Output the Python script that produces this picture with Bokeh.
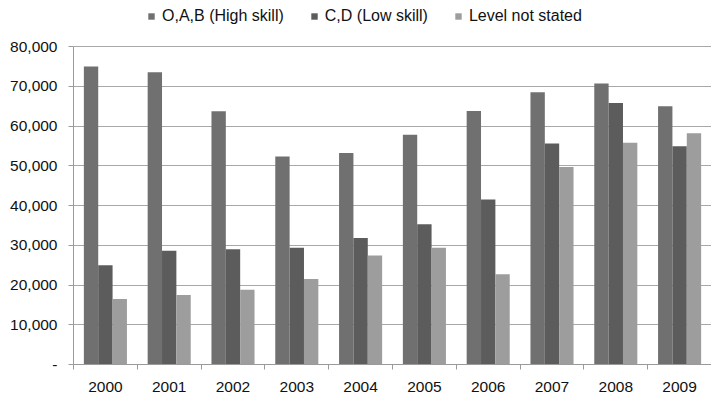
from bokeh.plotting import figure
from bokeh.models import (Range1d, FixedTicker, NumeralTickFormatter, Legend, LegendItem)
from bokeh.embed import file_html
from bokeh.resources import INLINE

years = ["2000", "2001", "2002", "2003", "2004", "2005", "2006", "2007", "2008", "2009"]
high_skill = [75000, 73500, 63700, 52300, 53200, 57800, 63800, 68500, 70700, 65000]
low_skill = [25000, 28600, 29000, 29400, 31800, 35300, 41500, 55600, 65800, 54900]
not_stated = [16500, 17500, 18800, 21500, 27400, 29400, 22700, 49700, 55800, 58200]
series_names = ["O,A,B (High skill)", "C,D (Low skill)", "Level not stated"]
colors = ["#707070", "#5c5c5c", "#9d9d9d"]
y_ticks = [0, 10000, 20000, 30000, 40000, 50000, 60000, 70000, 80000]

FONT = "Liberation Sans"

# layout: frame occupies the full height above the x axis; the value axis
# stops at the top tick and the legend sits in the free strip above it
FIG_W, FIG_H = 711, 395
BORDER_LEFT, BORDER_BOTTOM = 73, 31
FRAME_H = FIG_H - BORDER_BOTTOM
TOP_GAP = 46  # px between frame top and the top tick
y_max = y_ticks[-1] * FRAME_H / (FRAME_H - TOP_GAP)

p = figure(width=FIG_W, height=FIG_H, output_backend="svg", toolbar_location=None,
           x_range=Range1d(0, len(years)), y_range=Range1d(0, y_max),
           min_border_left=BORDER_LEFT, min_border_right=0, min_border_top=0,
           min_border_bottom=BORDER_BOTTOM)
p.outline_line_color = None
p.background_fill_color = "white"
p.border_fill_color = "white"

bw = 0.225
offsets = [-bw, 0.0, bw]
renderers = []
for vals, off, col in zip([high_skill, low_skill, not_stated], offsets, colors):
    xs = [i + 0.5 + off for i in range(len(years))]
    r = p.vbar(x=xs, top=vals, width=bw, bottom=0, fill_color=col, line_color=None)
    renderers.append(r)

# y axis
p.yaxis.bounds = (y_ticks[0], y_ticks[-1])
p.yaxis.ticker = FixedTicker(ticks=y_ticks)
p.yaxis.formatter = NumeralTickFormatter(format="0,0")
p.yaxis.major_label_overrides = {0: "-"}
p.yaxis.major_label_text_font = FONT
p.yaxis.major_label_text_font_size = "15.5px"
p.yaxis.major_label_text_color = "#111111"
p.yaxis.axis_line_color = "#9a9a9a"
p.yaxis.major_tick_line_color = "#9a9a9a"
p.yaxis.major_tick_out = 5
p.yaxis.major_tick_in = 0
p.yaxis.minor_tick_line_color = None
p.yaxis.major_label_standoff = 11

# x axis
centers = [i + 0.5 for i in range(len(years))]
bounds = list(range(len(years) + 1))
p.xaxis.ticker = FixedTicker(ticks=centers, minor_ticks=bounds)
p.xaxis.major_label_overrides = {c: y for c, y in zip(centers, years)}
p.xaxis.major_label_text_font = FONT
p.xaxis.major_label_text_font_size = "15.5px"
p.xaxis.major_label_text_color = "#111111"
p.xaxis.axis_line_color = "#9a9a9a"
p.xaxis.major_tick_line_color = None
p.xaxis.major_tick_out = 0
p.xaxis.major_tick_in = 0
p.xaxis.minor_tick_line_color = "#9a9a9a"
p.xaxis.minor_tick_out = 5
p.xaxis.minor_tick_in = 0
p.xaxis.major_label_standoff = 12

# grid
p.xgrid.grid_line_color = None
p.ygrid.ticker = FixedTicker(ticks=y_ticks)
p.ygrid.grid_line_color = "#a8a8a8"
p.ygrid.grid_line_width = 1

items = [LegendItem(label=n, renderers=[r]) for n, r in zip(series_names, renderers)]
legend = Legend(items=items, orientation="horizontal", location=(74, FRAME_H - 25),
                glyph_width=8, glyph_height=8, label_standoff=7, spacing=26,
                padding=0, margin=0, label_text_font=FONT, label_text_font_size="16px",
                label_text_color="#111111", background_fill_alpha=0, border_line_color=None,
                label_height=16)
p.add_layout(legend, "center")

open("out.html", "w").write(file_html(p, INLINE))
